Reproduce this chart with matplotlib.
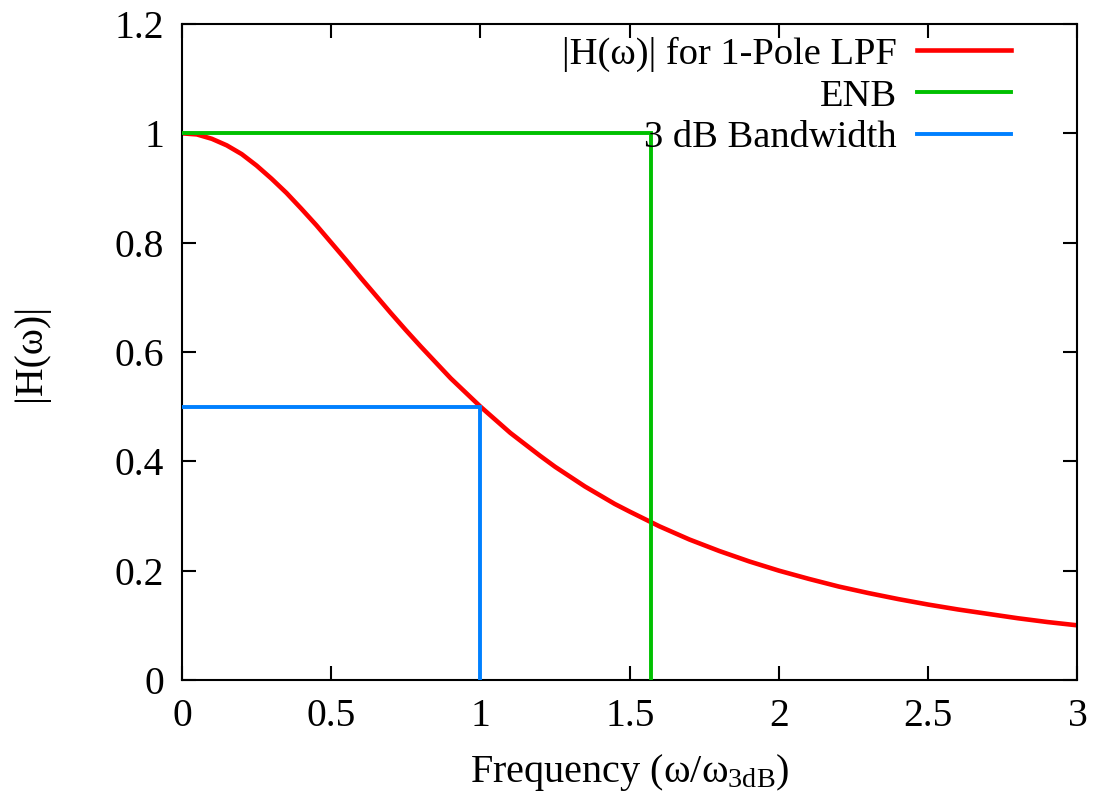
import matplotlib
matplotlib.use("Agg")
import matplotlib.pyplot as plt

plt.rcParams['font.family'] = ['Liberation Serif', 'DejaVu Serif']
plt.rcParams['mathtext.fontset'] = 'custom'
plt.rcParams['mathtext.rm'] = 'Liberation Serif'
plt.rcParams['mathtext.it'] = 'Liberation Serif:italic'

# |H(w)| of a one-pole low-pass against w/w3dB
freq = [0.0, 0.05, 0.1, 0.15, 0.2, 0.25, 0.3, 0.35, 0.4, 0.45, 0.5,
        0.55, 0.6, 0.65, 0.7, 0.75, 0.8, 0.85, 0.9, 0.95, 1.0,
        1.05, 1.1, 1.15, 1.2, 1.25, 1.3, 1.35, 1.4, 1.45, 1.5,
        1.6, 1.7, 1.8, 1.9, 2.0, 2.1, 2.2, 2.3, 2.4, 2.5,
        2.6, 2.7, 2.8, 2.9, 3.0]
mag = [1.000, 0.998, 0.990, 0.978, 0.962, 0.941, 0.917, 0.891, 0.862, 0.832, 0.800,
       0.768, 0.735, 0.703, 0.671, 0.640, 0.610, 0.581, 0.552, 0.526, 0.500,
       0.476, 0.452, 0.431, 0.410, 0.390, 0.372, 0.354, 0.338, 0.322, 0.308,
       0.281, 0.257, 0.236, 0.217, 0.200, 0.185, 0.171, 0.159, 0.148, 0.138,
       0.129, 0.121, 0.113, 0.106, 0.100]

# equivalent noise bandwidth box and 3 dB corner
enb_x = [0.0, 1.5708, 1.5708]
enb_y = [1.0, 1.0, 0.0]
bw_x = [0.0, 1.0, 1.0]
bw_y = [0.5, 0.5, 0.0]

xticks = [0, 0.5, 1, 1.5, 2, 2.5, 3]
xticklabels = ["0", "0.5", "1", "1.5", "2", "2.5", "3"]
yticks = [0, 0.2, 0.4, 0.6, 0.8, 1.0, 1.2]
yticklabels = ["0", "0.2", "0.4", "0.6", "0.8", "1", "1.2"]

FS = 28.5

fig = plt.figure(figsize=(10.95, 8.08), dpi=100)
ax = fig.add_axes([0.1662, 0.1584, 0.8178, 0.8119])

ax.plot(freq, mag, color="#ff0000", lw=3.3, label="|H(ω)| for 1-Pole LPF", zorder=2)
ax.plot(enb_x, enb_y, color="#00c000", lw=2.8, label="ENB", zorder=3, solid_joinstyle="miter")
ax.plot(bw_x, bw_y, color="#0080ff", lw=2.8, label="3 dB Bandwidth", zorder=4, solid_joinstyle="miter")

ax.set_xlim(0, 3)
ax.set_ylim(0, 1.2)
ax.set_xticks(xticks)
ax.set_xticklabels(xticklabels)
ax.set_yticks(yticks)
ax.set_yticklabels(yticklabels)
ax.tick_params(direction="in", length=10, width=1.5, top=True, right=True,
               labelsize=FS, pad=13)
for s in ax.spines.values():
    s.set_linewidth(1.5)

ax.set_xlabel(r"Frequency (ω/ω$_{\mathrm{3dB}}$)", fontsize=FS + 0.5, labelpad=12)
ax.set_ylabel("|H(ω)|", fontsize=FS, labelpad=47)

ax.legend(loc="upper right", bbox_to_anchor=(0.926, 0.981), markerfirst=False,
          frameon=False, fontsize=27.7, handlelength=2.45, handletextpad=0.52,
          labelspacing=0.18, borderpad=0, borderaxespad=0)

fig.savefig("out.png", dpi=100)
